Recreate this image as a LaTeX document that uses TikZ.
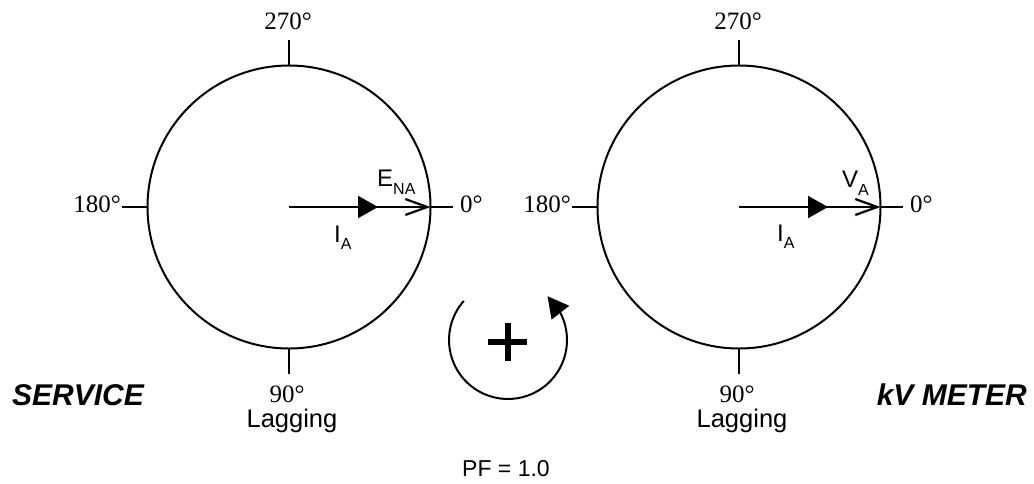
\documentclass[tikz,border=0pt]{standalone}
\usepackage{fontspec}
\setmainfont{Liberation Serif}
\setsansfont{Liberation Sans}
\usetikzlibrary{arrows.meta,bending}
\begin{document}
\begin{tikzpicture}[x=1pt,y=-1pt,
  ring/.style={circle,draw,line width=2pt,minimum size=283pt,inner sep=0pt,outer sep=0pt},
  tickline/.style={line width=2pt},
  deg/.style={font=\fontsize{25}{25}\selectfont, inner sep=0pt},
  lab/.style={font=\sffamily\fontsize{24}{24}\selectfont, inner sep=0pt},
  lagtext/.style={font=\sffamily\fontsize{25.5}{25.5}\selectfont, inner sep=0pt},
  titlelab/.style={font=\sffamily\bfseries\itshape\fontsize{30}{30}\selectfont, inner sep=0pt},
  phasor/.style={line width=2.2pt},
  openhead/.style={-{Straight Barb[length=22pt,width=16pt]}},
  fillhead/.style={-{Triangle[length=20pt,width=22pt]}},
]
\useasboundingbox (0,0) rectangle (1034,483);

% ---------- left diagram (SERVICE) ----------
\node[ring] (L) at (289,207) {};
\coordinate (Ltop) at (289,40);
\coordinate (Lbot) at (289,374);
\coordinate (Lleft) at (122,207);
\coordinate (Lright) at (453,207);
\coordinate (Lmid) at (378,207);
\draw[tickline] (L.north) -- (Ltop);
\draw[tickline] (L.south) -- (Lbot);
\draw[tickline] (L.west) -- (Lleft);
\draw[tickline] (L.east) -- (Lright);
\draw[phasor,openhead] (L.center) -- (L.east);
\draw[phasor,fillhead] (L.center) -- (Lmid);
\node[deg, anchor=base] (L270) at (288,29) {270°};
\node[deg, anchor=base east] (L180) at (121,212) {180°};
\node[deg, anchor=base west] (L0) at (460,212) {0°};
\node[deg, anchor=base] (L90) at (287,402) {90°};
\node[lagtext, anchor=base] (Llag) at (292,427) {Lagging};
\node[lab, anchor=base west] (ENA) at (377,186) {E\raisebox{-8pt}{\fontsize{16}{16}\selectfont NA}};
\node[lab, anchor=base west] (IAL) at (334,242) {I\raisebox{-7pt}{\fontsize{16}{16}\selectfont A}};
\node[titlelab, anchor=base west] (service) at (12,405) {SERVICE};

% ---------- right diagram (kV METER) ----------
\node[ring] (R) at (739,207) {};
\coordinate (Rtop) at (739,40);
\coordinate (Rbot) at (739,374);
\coordinate (Rleft) at (572,207);
\coordinate (Rright) at (903,207);
\coordinate (Rmid) at (828,207);
\draw[tickline] (R.north) -- (Rtop);
\draw[tickline] (R.south) -- (Rbot);
\draw[tickline] (R.west) -- (Rleft);
\draw[tickline] (R.east) -- (Rright);
\draw[phasor,openhead] (R.center) -- (R.east);
\draw[phasor,fillhead] (R.center) -- (Rmid);
\node[deg, anchor=base] (R270) at (738,29) {270°};
\node[deg, anchor=base east] (R180) at (571,212) {180°};
\node[deg, anchor=base west] (R0) at (910,212) {0°};
\node[deg, anchor=base] (R90) at (737,402) {90°};
\node[lagtext, anchor=base] (Rlag) at (742,427) {Lagging};
\node[lab, anchor=base west] (VA) at (842,187) {V\raisebox{-8pt}{\fontsize{16}{16}\selectfont A}};
\node[lab, anchor=base west] (IAR) at (777,241) {I\raisebox{-7pt}{\fontsize{16}{16}\selectfont A}};
\node[titlelab, anchor=base east] (meter) at (1027,405) {kV METER};

% ---------- rotation symbol ----------
\coordinate (rc) at (508,340);
\draw[line width=2pt,-{Triangle[length=21pt,width=22pt]}]
  (rc) ++(138.5:59pt) arc[start angle=138.5, end angle=408, radius=59pt];
\coordinate (plw) at (488,342);
\coordinate (ple) at (527,342);
\coordinate (plt) at (508,323);
\coordinate (plb) at (508,361);
\draw[line width=6pt] (plw) -- (ple);
\draw[line width=6pt] (plt) -- (plb);

\node[lab, font=\sffamily\fontsize{23}{23}\selectfont, anchor=base] (pf) at (506,476) {PF = 1.0};
\end{tikzpicture}
\end{document}
